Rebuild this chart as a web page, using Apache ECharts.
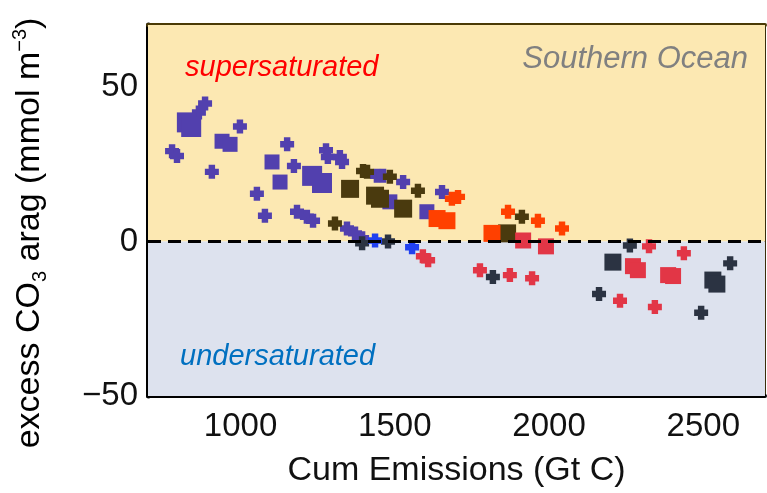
<!DOCTYPE html>
<html>
<head>
<meta charset="utf-8">
<script src="https://cdn.jsdelivr.net/npm/echarts@6/dist/echarts.min.js"></script>
<style>
  html, body { margin: 0; padding: 0; background: #fff; }
  #chart { width: 767px; height: 493px; }
</style>
</head>
<body>
<div id="chart"></div>
<script>
// Cumulative emissions (Gt C) vs excess CO3 (aragonite), Southern Ocean
const xTicks = [1000, 1500, 2000, 2500];
const yTicks = [-50, 0, 50];

// [cumulative emissions, excess CO3]
const purpleCross = [[885,44.6],[865,41.7],[998,37.2],[778,29.2],[794,27.6],[907,22.5],[1151,31.4],[1173,24.4],[1053,15.4],[1079,8.3],[1183,9.6],[1215,8.0],[1235,6.7],[1277,29.5],[1283,27.3],[1322,27.3],[1329,25.7],[1442,21.2],[1462,21.2],[1527,19.2],[1653,16],[1345,4.2],[1371,2.6],[1394,1]];
const purpleSquareBig = [[826,38.5],[840,37],[1232,21.2],[1264,18.9]];
const purpleSquareSmall = [[940,32.4],[966,31.4],[1102,25.7],[1128,19.2],[1484,12.8],[1604,9.6]];
const brownCross = [[1397,22.8],[1410,22.5],[1484,20.9],[1575,16.4],[1306,5.8],[1912,8]];
const brownSquare = [[1355,17],[1436,14.8],[1452,13.8],[1527,10.6],[1864,2.6]];
const orangeCross = [[1685,13.8],[1705,14.4],[1867,9.6],[1964,6.7],[2042,4.2]];
const orangeSquare = [[1637,7.4],[1669,6.7],[1815,2.6]];
const redCross = [[1591,-4.8],[1608,-6.1],[1776,-9.3],[1873,-10.9],[1945,-11.9],[2324,-1.6],[2437,-3.8],[2230,-19.2],[2343,-21.2]];
const redSquare = [[1916,0.3],[1990,-1.6],[2272,-8],[2288,-9.3],[2386,-10.9],[2402,-11.2]];
const navyCross = [[1394,-0.6],[1478,0],[1818,-11.5],[2262,-1.3],[2587,-7.1],[2162,-17],[2493,-23.1]];
const navySquare = [[2207,-6.7],[2531,-12.5],[2544,-13.8]];
const blueCross = [[1436,0.3],[1556,-1.9]];

const FONT = '"Liberation Sans", Arial, sans-serif';
// chunky plus-shaped marker
const CROSS = 'path://M27,0 H73 V27 H100 V73 H73 V100 H27 V73 H0 V27 H27 Z';

const chart = echarts.init(document.getElementById('chart'));

function scatter(name, data, symbol, size, color) {
  return {
    name: name, type: 'scatter', data: data,
    symbol: symbol, symbolSize: size,
    itemStyle: { color: color, opacity: 1 },
    emphasis: { disabled: true },
    z: 3
  };
}

const series = [
  {
    name: 'regions', type: 'scatter', data: [], silent: true, z: 1,
    markArea: {
      silent: true,
      data: [
        [{ yAxis: 0, itemStyle: { color: '#fce8b2', opacity: 1 } }, { yAxis: 70 }],
        [{ yAxis: -50, itemStyle: { color: '#dde2ee', opacity: 1 } }, { yAxis: 0 }]
      ]
    }
  },
  scatter('purple cross', purpleCross, CROSS, 14, '#5240ae'),
  scatter('purple square big', purpleSquareBig, 'rect', 20, '#5240ae'),
  scatter('purple square', purpleSquareSmall, 'rect', 15, '#5240ae'),
  scatter('brown cross', brownCross, CROSS, 14, '#4a3a0e'),
  scatter('brown square', brownSquare, 'rect', 18, '#4a3a0e'),
  scatter('orange cross', orangeCross, CROSS, 14, '#ff4000'),
  scatter('orange square', orangeSquare, 'rect', 17, '#ff4000'),
  scatter('red cross', redCross, CROSS, 14, '#e23646'),
  scatter('red square', redSquare, 'rect', 16, '#e23646'),
  scatter('navy cross', navyCross, CROSS, 14, '#2b3342'),
  scatter('navy square', navySquare, 'rect', 17, '#2b3342'),
  scatter('blue cross', blueCross, CROSS, 14, '#2040f0'),
  {
    name: 'saturation', type: 'scatter', data: [], silent: true, z: 5,
    markLine: {
      silent: true, symbol: 'none', label: { show: false },
      lineStyle: { color: '#000', width: 3, type: [13, 7] },
      data: [{ yAxis: 0 }]
    }
  }
];

chart.setOption({
  animation: false,
  backgroundColor: '#fff',
  grid: { left: 148, right: 2, top: 25, bottom: 94 },
  xAxis: [
    {
      type: 'value', min: 700, max: 2700, position: 'bottom',
      name: 'Cum Emissions (Gt C)', nameLocation: 'middle', nameGap: 58,
      nameTextStyle: { fontFamily: FONT, fontSize: 34, color: '#111' },
      axisLine: { show: true, onZero: false, lineStyle: { color: '#000', width: 4 } },
      axisTick: { show: true, inside: true, length: 6, customValues: xTicks, lineStyle: { color: '#333', width: 3 } },
      axisLabel: { customValues: xTicks, fontFamily: FONT, fontSize: 33, color: '#111', margin: 14,
        formatter: v => String(v) },
      splitLine: { show: false }
    },
    {
      type: 'value', min: 700, max: 2700, position: 'top',
      axisLine: { show: true, onZero: false, lineStyle: { color: '#4a3a06', width: 4 } },
      axisTick: { show: true, inside: true, length: 6, customValues: xTicks, lineStyle: { color: '#4a3a06', width: 3 } },
      axisLabel: { show: false },
      splitLine: { show: false }
    }
  ],
  yAxis: [
    {
      type: 'value', min: -50, max: 70, interval: 50, position: 'left',
      axisLine: { show: true, onZero: false, lineStyle: { color: '#000', width: 5 } },
      axisTick: { show: true, inside: true, length: 5, customValues: [50], lineStyle: { color: '#4a3a06', width: 3 } },
      axisLabel: { customValues: yTicks, fontFamily: FONT, fontSize: 33, color: '#111', margin: 10,
        padding: [6, 0, 0, 0],
        formatter: v => (v < 0 ? '\u2212' + Math.abs(v) : String(v)) },
      splitLine: { show: false }
    },
    {
      type: 'value', min: -50, max: 70, interval: 50, position: 'right',
      axisLine: { show: true, onZero: false, lineStyle: { color: '#3a2e0c', width: 2 } },
      axisTick: { show: true, inside: true, length: 5, customValues: [50], lineStyle: { color: '#4a3a06', width: 3 } },
      axisLabel: { show: false },
      splitLine: { show: false }
    }
  ],
  graphic: [
    {
      type: 'text', x: 30, y: 233, rotation: Math.PI / 2, z: 10,
      style: {
        text: '{a|excess CO}{s|3}{a| arag (mmol m}{p|\u22123}{a|)}',
        align: 'center', verticalAlign: 'middle',
        rich: {
          a: { fontFamily: FONT, fontSize: 34, color: '#111', lineHeight: 40 },
          s: { fontFamily: FONT, fontSize: 20, color: '#111', lineHeight: 16, verticalAlign: 'bottom' },
          p: { fontFamily: FONT, fontSize: 20, color: '#111', lineHeight: 20, verticalAlign: 'top' }
        }
      }
    },
    {
      type: 'text', x: 185, y: 68, z: 10,
      style: { text: 'supersaturated', fontFamily: FONT, fontSize: 29, fontStyle: 'italic', fill: '#ff0000', verticalAlign: 'middle' }
    },
    {
      type: 'text', x: 180, y: 357, z: 10,
      style: { text: 'undersaturated', fontFamily: FONT, fontSize: 29, fontStyle: 'italic', fill: '#0070c0', verticalAlign: 'middle' }
    },
    {
      type: 'text', x: 748, y: 59, z: 10,
      style: { text: 'Southern Ocean', fontFamily: FONT, fontSize: 31, fontStyle: 'italic', fill: '#808080', align: 'right', verticalAlign: 'middle' }
    }
  ],
  series: series
});
</script>
</body>
</html>
